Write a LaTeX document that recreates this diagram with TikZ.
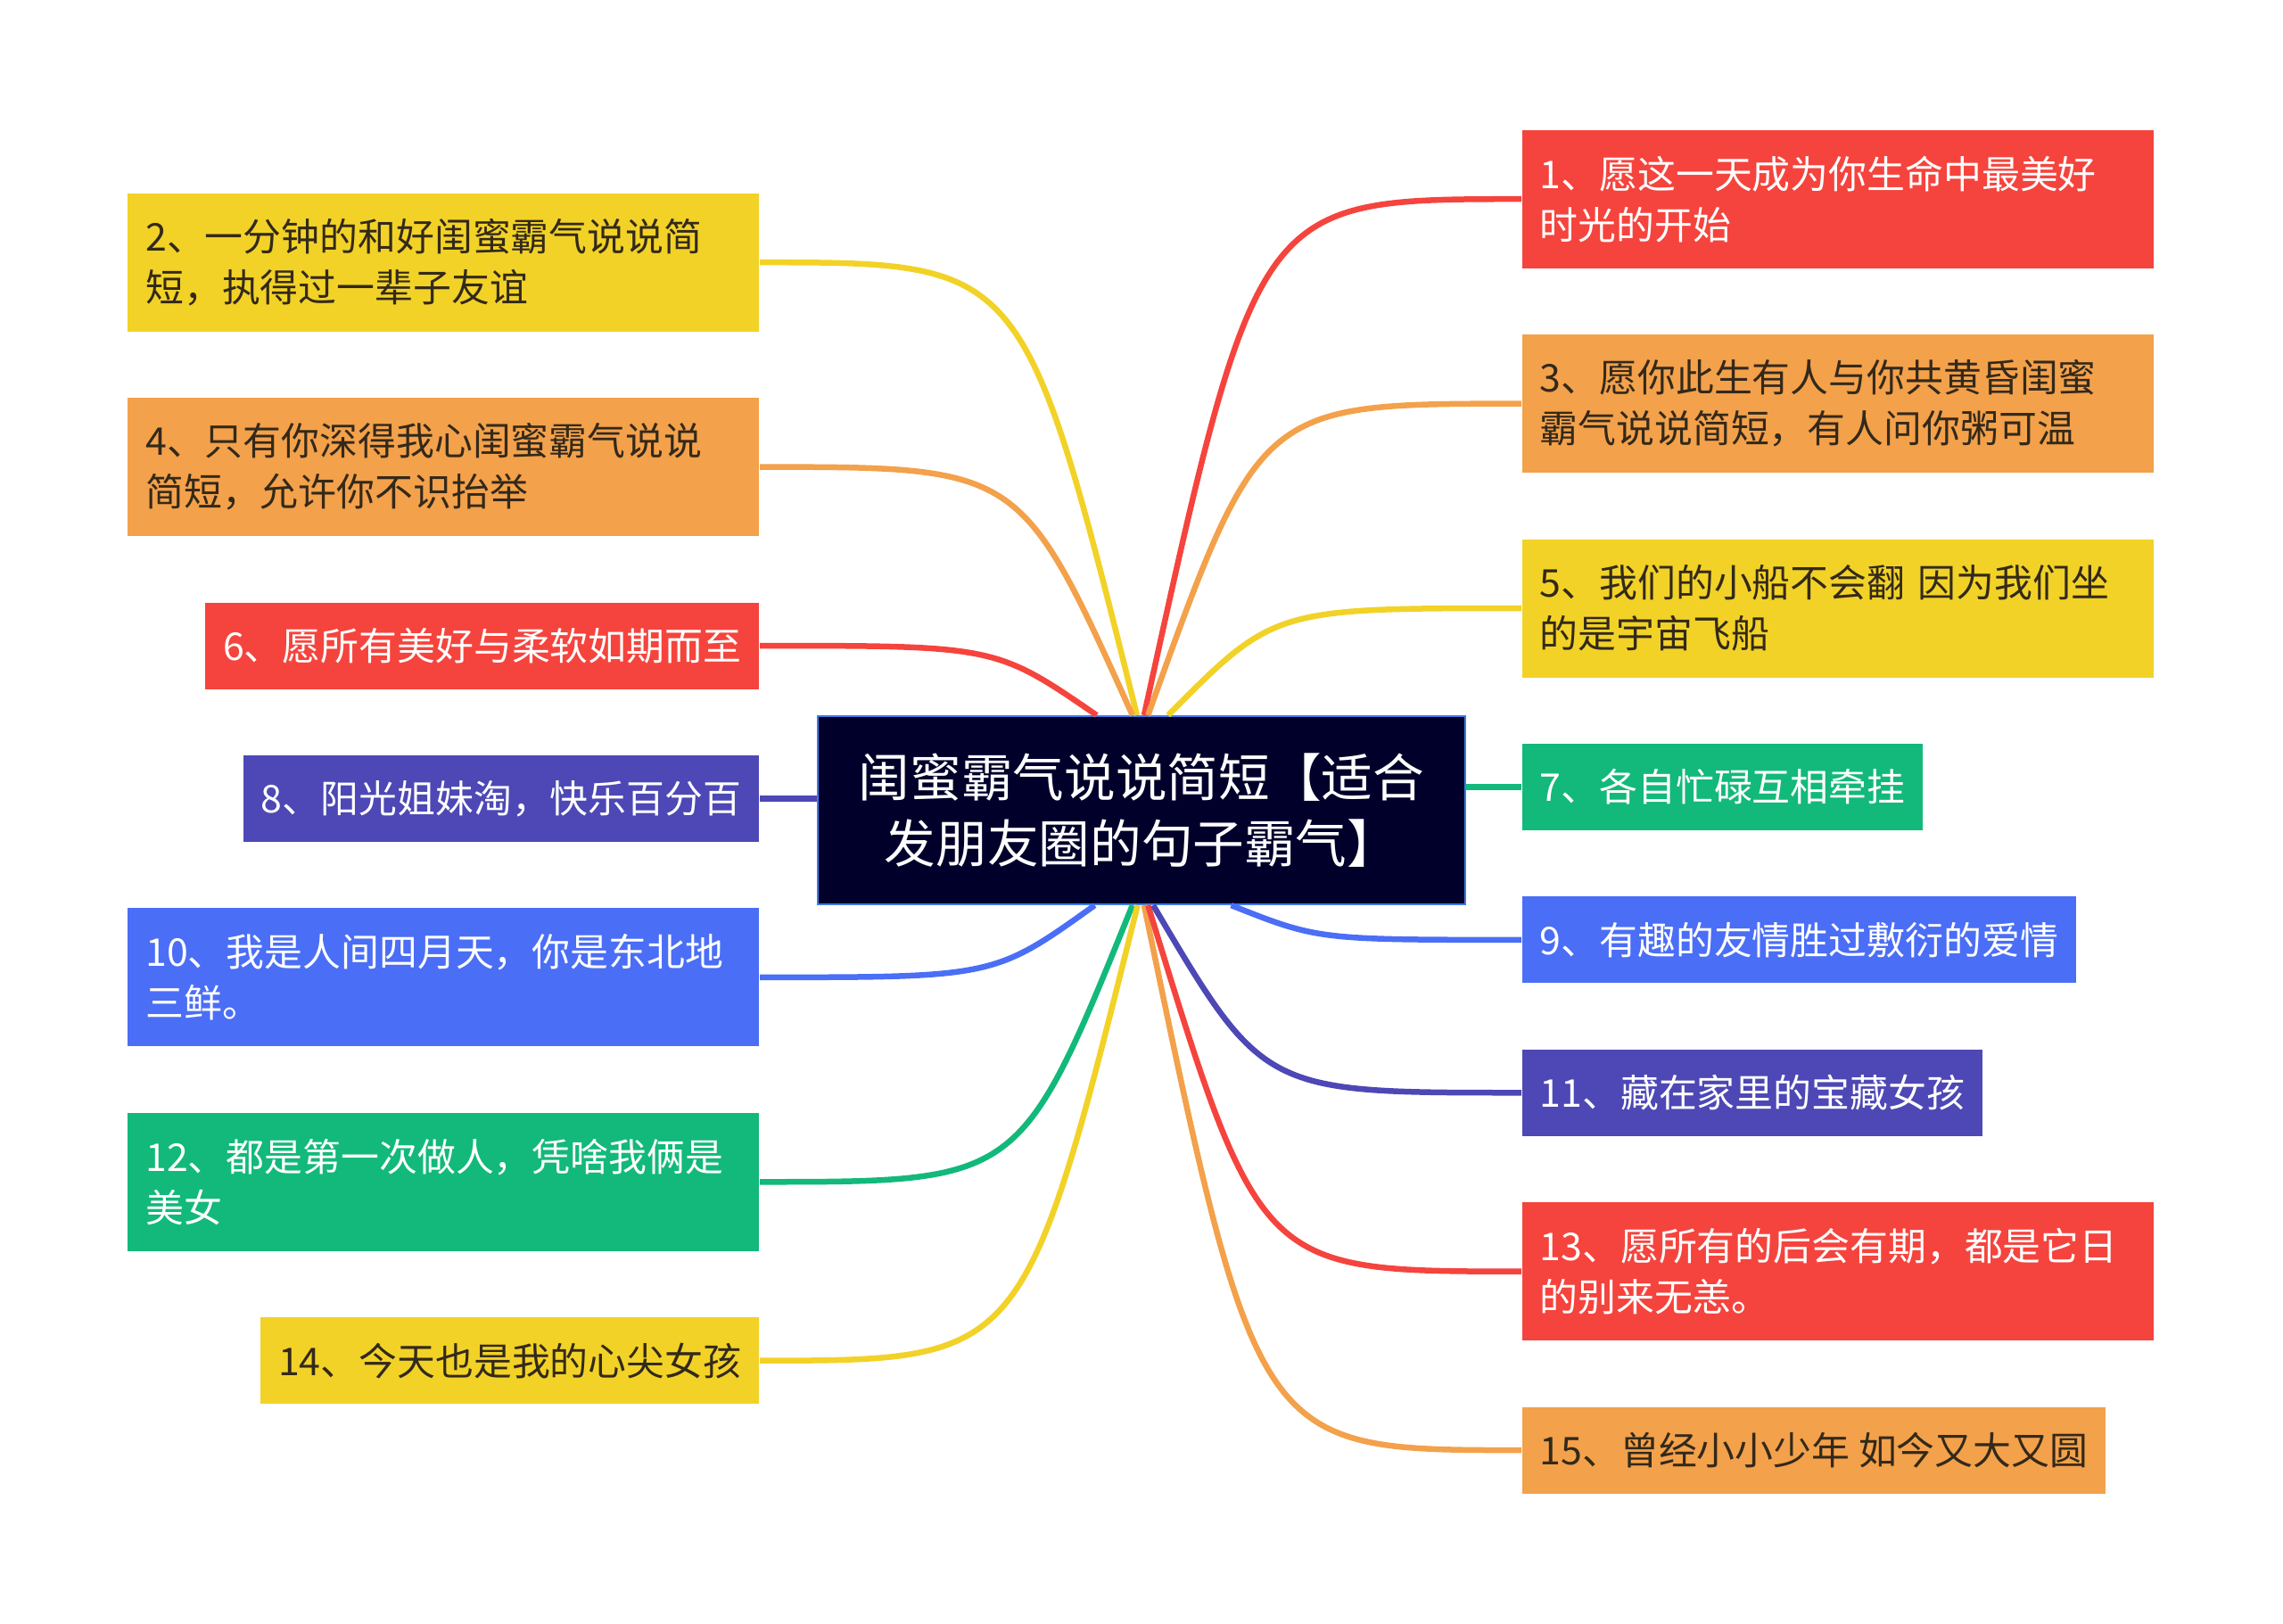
\documentclass[tikz,border=0pt]{standalone}
\usepackage{fontspec}
\setmainfont{Noto Sans CJK SC}
\usepackage{xcolor}
\definecolor{navy}{HTML}{00002B}
\definecolor{navyline}{HTML}{3E7BE6}
\definecolor{mred}{HTML}{F5443D}
\definecolor{morange}{HTML}{F3A14B}
\definecolor{myellow}{HTML}{F2D227}
\definecolor{mindigo}{HTML}{4D48B5}
\definecolor{mblue}{HTML}{4B6EF6}
\definecolor{mgreen}{HTML}{12B97A}
\definecolor{ink}{HTML}{33291A}
\usetikzlibrary{positioning, calc}

\begin{document}
\begin{tikzpicture}[
  topic/.style = {draw=navyline, fill=navy, text=white, line width=0.6pt,
                  minimum width=7.26cm, minimum height=2.11cm, align=center,
                  font=\fontsize{16.4pt}{20.9pt}\selectfont},
  leaf/.style  = {fill=#1, text=white, minimum height=0.97cm, inner xsep=0.2cm,
                  align=left, font=\fontsize{12.2pt}{16.2pt}\selectfont},
  leaf2/.style = {leaf=#1, minimum height=1.55cm, text width=6.68cm},
  dark/.style  = {text=ink},
  link/.style  = {draw=#1, line width=0.65mm},
  node distance = 0.73cm
]
\useasboundingbox (0,0) rectangle (25.6,-18.2);

\node[topic] (ctr) at (12.80,-9.085) {闺蜜霸气说说简短【适合\\发朋友圈的句子霸气】};

% left side
\node[leaf2=myellow, dark, anchor=north east] (b2) at (8.52,-2.16)
  {2、一分钟的和好闺蜜霸气说说简\\短，执得过一辈子友谊};
\node[leaf2=morange, dark, below left=0.73cm and 0cm of b2.south east] (b4)
  {4、只有你深得我心闺蜜霸气说说\\简短，允许你不识抬举};
\node[leaf=mred, below left=0.73cm and 0cm of b4.south east]     (b6)  {6、愿所有美好与柔软如期而至};
\node[leaf=mindigo, below left=0.73cm and 0cm of b6.south east]  (b8)  {8、阳光姐妹淘，快乐百分百};
\node[leaf2=mblue, below left=0.73cm and 0cm of b8.south east]   (b10)
  {10、我是人间四月天，你是东北地\\三鲜。};
\node[leaf2=mgreen, below left=0.73cm and 0cm of b10.south east] (b12)
  {12、都是第一次做人，凭啥我俩是\\美女};
\node[leaf=myellow, dark, below left=0.73cm and 0cm of b12.south east] (b14) {14、今天也是我的心尖女孩};

% right side
\node[leaf2=mred, anchor=north west] (b1) at (17.06,-1.45)
  {1、愿这一天成为你生命中最美好\\时光的开始};
\node[leaf2=morange, dark, below right=0.73cm and 0cm of b1.south west] (b3)
  {3、愿你此生有人与你共黄昏闺蜜\\霸气说说简短，有人问你粥可温};
\node[leaf2=myellow, dark, below right=0.73cm and 0cm of b3.south west] (b5)
  {5、我们的小船不会翻 因为我们坐\\的是宇宙飞船};
\node[leaf=mgreen, below right=0.73cm and 0cm of b5.south west]   (b7)  {7、各自忙碌互相牵挂};
\node[leaf=mblue, below right=0.73cm and 0cm of b7.south west]    (b9)  {9、有趣的友情胜过敷衍的爱情};
\node[leaf=mindigo, below right=0.73cm and 0cm of b9.south west]  (b11) {11、藏在家里的宝藏女孩};
\node[leaf2=mred, below right=0.73cm and 0cm of b11.south west]   (b13)
  {13、愿所有的后会有期，都是它日\\的别来无恙。};
\node[leaf=morange, dark, below right=0.73cm and 0cm of b13.south west] (b15) {15、曾经小小少年 如今又大又圆};

% straight links
\draw[link=mindigo] (b8.east) -- (b8.east -| ctr.west);
\draw[link=mgreen]  (b7.west) -- (b7.west -| ctr.east);

% curved links, top edge
\foreach \b/\f/\c/\s in {b2/0.493/myellow/east, b4/0.486/morange/east, b6/0.431/mred/east,
                         b1/0.504/mred/west, b3/0.510/morange/west, b5/0.541/myellow/west} {
  \coordinate (s) at ($(ctr.north west)!\f!(ctr.north east)$);
  \draw[link=\c] (s) .. controls ($(s|-\b.\s)!0.3!(\b.\s)$) .. (\b.\s);
}
% curved links, bottom edge
\foreach \b/\f/\c/\s in {b10/0.428/mblue/east, b12/0.486/mgreen/east, b14/0.494/myellow/east,
                         b15/0.504/morange/west, b13/0.510/mred/west, b11/0.518/mindigo/west,
                         b9/0.638/mblue/west} {
  \coordinate (s) at ($(ctr.south west)!\f!(ctr.south east)$);
  \draw[link=\c] (s) .. controls ($(s|-\b.\s)!0.3!(\b.\s)$) .. (\b.\s);
}
\end{tikzpicture}
\end{document}
